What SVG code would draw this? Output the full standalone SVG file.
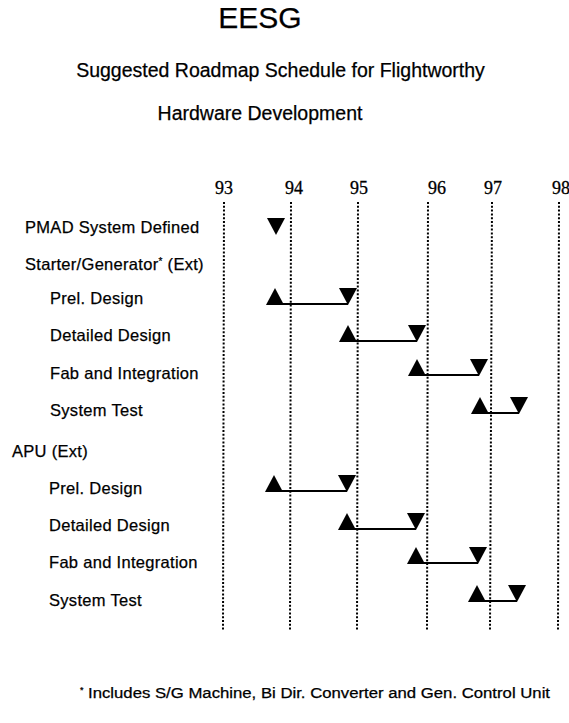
<svg xmlns="http://www.w3.org/2000/svg" width="569" height="723" viewBox="0 0 569 723">
<style>
  .t { font-family: "Liberation Sans", Arial, sans-serif; fill: #000; stroke: #000; stroke-width: 0.25px; }
  .title { font-size: 30px; }
  .sub { font-size: 19.5px; }
  .lbl { font-size: 16.5px; letter-spacing: 0.3px; }
  .yr { font-family: "Liberation Serif", "Times New Roman", serif; font-size: 18px; fill: #000; stroke: #000; stroke-width: 0.3px; text-anchor: middle; }
  .grid { stroke: #000; stroke-width: 2; stroke-dasharray: 2 1.8; fill: none; }
  .bar { stroke: #000; stroke-width: 2; fill: none; }
  .tri { fill: #000; }
</style>
<defs>
  <path id="up" d="M0,17 L9,0 L18,17 Z"/>
  <path id="down" d="M0,0 L18,0 L9,17 Z"/>
</defs>
<rect width="569" height="723" fill="#fff"/>

<g id="header">
  <text class="t title" x="260" y="28" text-anchor="middle">EESG</text>
  <text class="t sub" x="280.5" y="77" text-anchor="middle">Suggested Roadmap Schedule for Flightworthy</text>
  <text class="t sub" x="260" y="120" text-anchor="middle">Hardware Development</text>
</g>

<g id="years">
  <text class="yr" x="224" y="194">93</text>
  <text class="yr" x="294" y="194">94</text>
  <text class="yr" x="359" y="194">95</text>
  <text class="yr" x="437" y="194">96</text>
  <text class="yr" x="493" y="194">97</text>
  <text class="yr" x="561" y="194">98</text>
</g>

<g id="gridlines">
  <line class="grid" x1="224" y1="202" x2="223" y2="630"/>
  <line class="grid" x1="291" y1="202" x2="290" y2="630"/>
  <line class="grid" x1="358" y1="202" x2="357" y2="630"/>
  <line class="grid" x1="428" y1="202" x2="427" y2="630"/>
  <line class="grid" x1="492" y1="202" x2="490" y2="630"/>
  <line class="grid" x1="559" y1="202" x2="558" y2="630"/>
</g>

<g id="labels">
  <text class="t lbl" x="25" y="233">PMAD System Defined</text>
  <text class="t lbl" x="25" y="270">Starter/Generator<tspan font-size="10" dy="-5">*</tspan><tspan dy="5"> (Ext)</tspan></text>
  <text class="t lbl" x="50" y="304">Prel. Design</text>
  <text class="t lbl" x="50" y="341">Detailed Design</text>
  <text class="t lbl" x="50" y="379">Fab and Integration</text>
  <text class="t lbl" x="50" y="416">System Test</text>
  <text class="t lbl" x="12" y="457">APU (Ext)</text>
  <text class="t lbl" x="49" y="494">Prel. Design</text>
  <text class="t lbl" x="49" y="531">Detailed Design</text>
  <text class="t lbl" x="49" y="568">Fab and Integration</text>
  <text class="t lbl" x="49" y="606">System Test</text>
</g>

<g id="connectors">
  <line class="bar" x1="283" y1="304" x2="348" y2="304"/>
  <line class="bar" x1="356" y1="341" x2="417" y2="341"/>
  <line class="bar" x1="425" y1="375" x2="479" y2="375"/>
  <line class="bar" x1="488" y1="413" x2="519" y2="413"/>
  <line class="bar" x1="282" y1="491" x2="347" y2="491"/>
  <line class="bar" x1="355" y1="529" x2="416" y2="529"/>
  <line class="bar" x1="424" y1="563" x2="478" y2="563"/>
  <line class="bar" x1="485" y1="601" x2="517" y2="601"/>
</g>

<g id="milestones">
  <use class="tri" href="#down" x="267" y="218"/>
  <use class="tri" href="#up" x="266" y="288"/>
  <use class="tri" href="#down" x="339" y="288"/>
  <use class="tri" href="#up" x="339" y="325"/>
  <use class="tri" href="#down" x="408" y="325"/>
  <use class="tri" href="#up" x="408" y="359"/>
  <use class="tri" href="#down" x="470" y="359"/>
  <use class="tri" href="#up" x="471" y="397"/>
  <use class="tri" href="#down" x="510" y="397"/>
  <use class="tri" href="#up" x="265" y="475"/>
  <use class="tri" href="#down" x="338" y="475"/>
  <use class="tri" href="#up" x="338" y="513"/>
  <use class="tri" href="#down" x="407" y="513"/>
  <use class="tri" href="#up" x="407" y="547"/>
  <use class="tri" href="#down" x="469" y="547"/>
  <use class="tri" href="#up" x="468" y="585"/>
  <use class="tri" href="#down" x="508" y="585"/>
</g>

<g id="footnote">
  <text class="t" x="80" y="698" font-size="14"><tspan font-size="9" dy="-5">*</tspan><tspan dy="5" x="88" textLength="462" lengthAdjust="spacingAndGlyphs">Includes S/G Machine, Bi Dir. Converter and Gen. Control Unit</tspan></text>
</g>
</svg>
